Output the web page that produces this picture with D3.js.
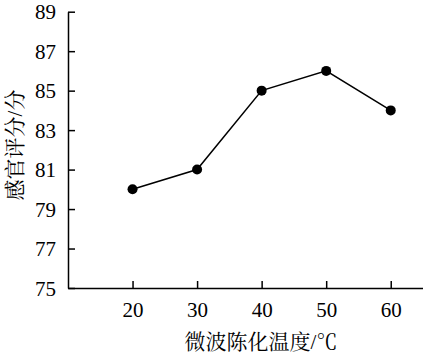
<!DOCTYPE html>
<html><head><meta charset="utf-8">
<script src="https://cdn.jsdelivr.net/npm/d3@7"></script>
<style>html,body{margin:0;padding:0;background:#fff;}</style>
</head><body>
<script>
const temps = [20, 30, 40, 50, 60];
const scores = [80, 81, 85, 86, 84];
const yTicks = [75, 77, 79, 81, 83, 85, 87, 89];
const xTicks = [20, 30, 40, 50, 60];
const xTitle = "微波陈化温度/℃";
const yTitle = "感官评分/分";

const W = 423, H = 358;
const svg = d3.select("body").append("svg").attr("width", W).attr("height", H);
const x = d3.scaleLinear().domain([10, 65]).range([68, 423]);
const y = d3.scaleLinear().domain([75, 89]).range([288, 11.7]);
const font = "'Liberation Serif','Times New Roman',serif";
const cjk = "'Liberation Serif','Noto Serif CJK SC','Noto Sans CJK SC',serif";

const gx = svg.append("g").attr("transform", `translate(0,${y(75)})`)
  .call(d3.axisBottom(x).tickValues(xTicks).tickSizeInner(-7).tickSizeOuter(0).tickPadding(14));
const gy = svg.append("g").attr("transform", `translate(${x(10)},0)`)
  .call(d3.axisLeft(y).tickValues(yTicks).tickSizeInner(-7).tickSizeOuter(0).tickPadding(12));
[gx, gy].forEach(g => {
  g.selectAll("path.domain").attr("stroke", "#000").attr("stroke-width", 1.5);
  g.selectAll(".tick line").attr("stroke", "#000").attr("stroke-width", 1.5);
  g.selectAll(".tick text").attr("font-family", font).attr("font-size", 21).attr("fill", "#000");
});
gy.selectAll(".tick text").attr("dy", "0.34em");

const line = d3.line().x((d, i) => x(temps[i])).y(d => y(d));
svg.append("path").datum(scores).attr("d", line)
  .attr("fill", "none").attr("stroke", "#000").attr("stroke-width", 1.5);
svg.selectAll("circle.pt").data(scores).enter().append("circle")
  .attr("cx", (d, i) => x(temps[i])).attr("cy", d => y(d)).attr("r", 5).attr("fill", "#000");

svg.append("text").attr("x", 261).attr("y", 349).attr("text-anchor", "middle")
  .attr("font-family", cjk).attr("font-size", 21).attr("fill", "#000").text(xTitle);
svg.append("text").attr("transform", "translate(22,145) rotate(-90)").attr("text-anchor", "middle")
  .attr("font-family", cjk).attr("font-size", 21).attr("fill", "#000").text(yTitle);
</script>
</body></html>
